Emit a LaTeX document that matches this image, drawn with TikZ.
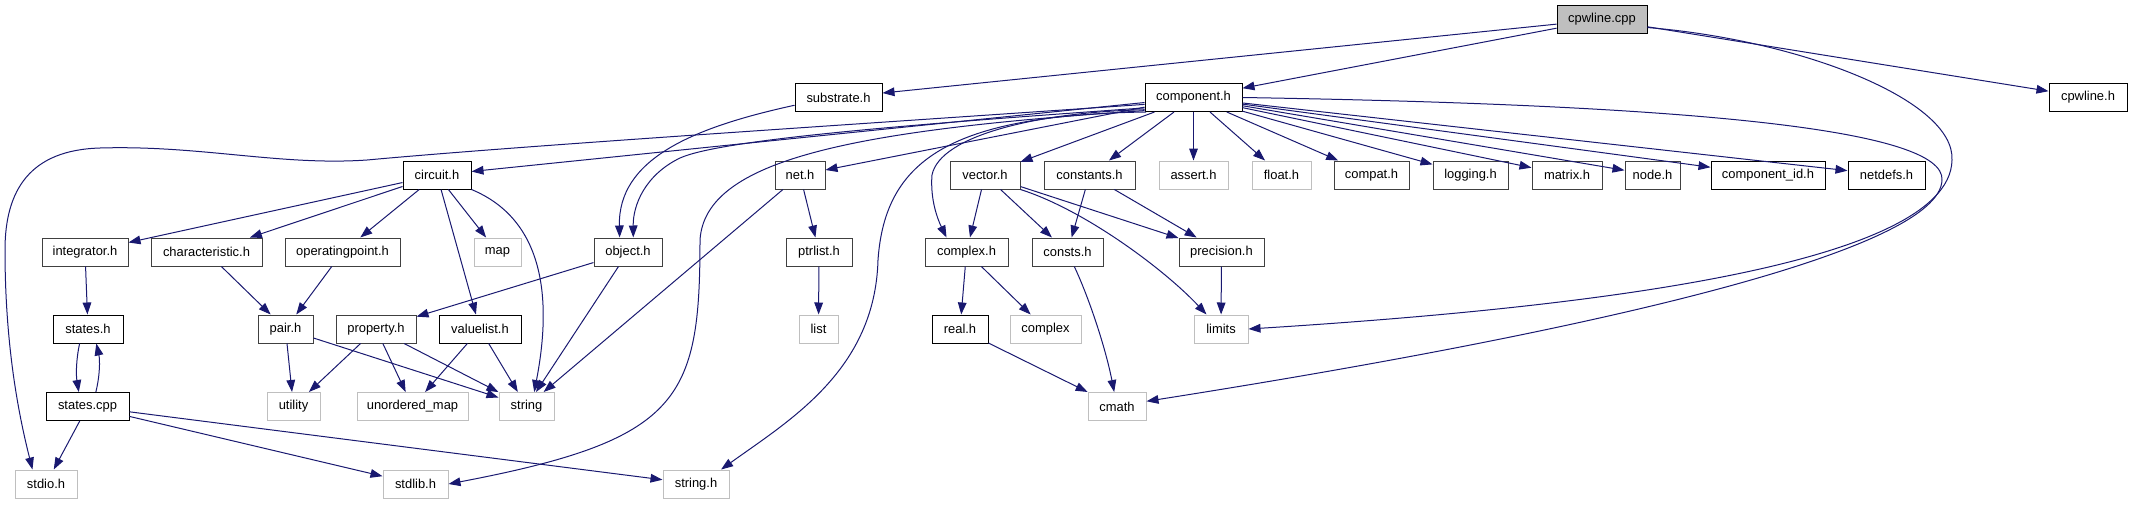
\documentclass[tikz,border=0pt]{standalone}
\usepackage{fontspec}
\setmainfont{Liberation Sans}
\usetikzlibrary{arrows.meta}

\definecolor{depblue}{HTML}{191970}
\definecolor{sysgrey}{HTML}{BFBFBF}
\definecolor{docgrey}{HTML}{404040}

\begin{document}
\begin{tikzpicture}[
    x=0.75pt, y=-0.75pt,
    hdr/.style={draw=black, line width=0.75pt, fill=white, inner sep=0pt,
                minimum height=21pt, font=\fontsize{9.7}{11}\selectfont},
    dochdr/.style={hdr, draw=docgrey},
    syshdr/.style={hdr, draw=sysgrey},
    srcfile/.style={hdr, fill=sysgrey},
    bw/.style={minimum width=#1*0.75pt},
    dep/.style={-{Triangle[length=9pt,width=6.5pt]}, draw=depblue, line width=0.75pt}
]
\useasboundingbox (0,0) rectangle (2132,504);

% rank 0 and 1
\node[srcfile, bw=90] (cpwcpp) at (1602,19.5) {cpwline.cpp};
\node[hdr, bw=87] (substrate) at (838.5,97.5) {substrate.h};
\node[hdr, bw=97] (component) at (1193.5,97.5) {component.h};
\node[hdr, bw=78] (cpwlineh) at (2088,97.5) {cpwline.h};

% rank 2
\node[hdr, bw=68] (circuit) at (437,175) {circuit.h};
\node[dochdr, bw=50] (net) at (800,175) {net.h};
\node[dochdr, bw=70] (vector) at (985,175) {vector.h};
\node[dochdr, bw=91] (constants) at (1089.5,175) {constants.h};
\node[syshdr, bw=69] (asserth) at (1193.5,175) {assert.h};
\node[syshdr, bw=59] (floath) at (1281.5,175) {float.h};
\node[dochdr, bw=75] (compat) at (1371.5,175) {compat.h};
\node[dochdr, bw=75] (logging) at (1470.5,175) {logging.h};
\node[dochdr, bw=70] (matrix) at (1567,175) {matrix.h};
\node[dochdr, bw=55] (nodeh) at (1652.5,175) {node.h};
\node[hdr, bw=114] (compid) at (1768,175) {component\_id.h};
\node[hdr, bw=77] (netdefs) at (1886.5,175) {netdefs.h};

% rank 3
\node[dochdr, bw=86] (integrator) at (85,252) {integrator.h};
\node[dochdr, bw=111] (characteristic) at (206.5,252) {characteristic.h};
\node[dochdr, bw=115] (operating) at (342.5,252) {operatingpoint.h};
\node[syshdr, bw=47] (map) at (497.5,252) {map};
\node[dochdr, bw=68] (object) at (628,252) {object.h};
\node[dochdr, bw=66] (ptrlist) at (819,252) {ptrlist.h};
\node[dochdr, bw=83] (complexh) at (966.5,252) {complex.h};
\node[dochdr, bw=71] (consts) at (1067.5,252) {consts.h};
\node[dochdr, bw=85] (precision) at (1221.5,252) {precision.h};

% rank 4
\node[hdr, bw=70] (states) at (88,329) {states.h};
\node[dochdr, bw=55] (pair) at (285.5,329) {pair.h};
\node[dochdr, bw=80] (property) at (376,329) {property.h};
\node[hdr, bw=82] (valuelist) at (480,329) {valuelist.h};
\node[syshdr, bw=39] (list) at (818.5,329) {list};
\node[hdr, bw=56] (real) at (960,329) {real.h};
\node[syshdr, bw=71] (complex) at (1045.5,329) {complex};
\node[syshdr, bw=54] (limits) at (1221,329) {limits};

% rank 5 and 6
\node[hdr, bw=83] (statescpp) at (87.5,406.5) {states.cpp};
\node[syshdr, bw=53] (utility) at (293.5,406.5) {utility};
\node[syshdr, bw=111] (umap) at (412.5,406.5) {unordered\_map};
\node[syshdr, bw=55] (string) at (526.5,406.5) {string};
\node[syshdr, bw=58] (cmath) at (1117,406.5) {cmath};
\node[syshdr, bw=62] (stdio) at (46,484) {stdio.h};
\node[syshdr, bw=65] (stdlib) at (415.5,484) {stdlib.h};
\node[syshdr, bw=66] (stringh) at (696,484) {string.h};

% cpwline.cpp
\draw[dep] (cpwcpp) -- (substrate);
\draw[dep] (cpwcpp) -- (component);
\draw[dep] (cpwcpp) -- (cpwlineh);
\draw[dep] (cpwcpp.-10) .. controls (1800,40) and (1955,100) .. (1952,160)
    .. controls (1950,270) and (1550,310) .. (limits.east);

% component.h
\draw[dep] (component.188) .. controls (800,128) and (520,146) .. (367,160)
    .. controls (280,166) and (200,145) .. (100,148)
    .. controls (30,150) and (5,190) .. (5,250)
    .. controls (5,350) and (20,420) .. (stdio.133);
\draw[dep] (component) -- (circuit);
\draw[dep] (component.192) .. controls (900,125) and (720,140) .. (680,158)
    .. controls (645,175) and (633,205) .. (object.70);
\draw[dep] (component) -- (net);
\draw[dep] (component.195) .. controls (850,130) and (705,160) .. (700,240)
    .. controls (700,400) and (680,440) .. (stdlib.east);
\draw[dep] (component.197) .. controls (950,115) and (885,160) .. (878,260)
    .. controls (875,370) and (790,420) .. (stringh.30);
\draw[dep] (component.194) .. controls (1040,112) and (940,135) .. (932,175)
    .. controls (930,200) and (938,220) .. (complexh.144);
\draw[dep] (component) -- (vector);
\draw[dep] (component) -- (constants);
\draw[dep] (component) -- (asserth);
\draw[dep] (component) -- (floath);
\draw[dep] (component) -- (compat);
\draw[dep] (component) -- (logging);
\draw[dep] (component) -- (matrix);
\draw[dep] (component) -- (nodeh);
\draw[dep] (component) -- (compid);
\draw[dep] (component) -- (netdefs);
\draw[dep] (component.east) .. controls (1700,105) and (1945,130) .. (1942,180)
    .. controls (1940,250) and (1600,330) .. (cmath.10);

% substrate.h
\draw[dep] (substrate.190) .. controls (690,128) and (618,160) .. (object.120);

% circuit.h
\draw[dep] (circuit) -- (integrator);
\draw[dep] (circuit) -- (characteristic);
\draw[dep] (circuit) -- (operating);
\draw[dep] (circuit) -- (map);
\draw[dep] (circuit) -- (valuelist);
\draw[dep] (circuit.south east) .. controls (545,220) and (552,300) .. (string.62);

% net.h, vector.h, constants.h
\draw[dep] (net) -- (ptrlist);
\draw[dep] (net) -- (string);
\draw[dep] (vector) -- (complexh);
\draw[dep] (vector) -- (consts);
\draw[dep] (vector) -- (precision);
\draw[dep] (vector.south east) .. controls (1085,210) and (1165,270) .. (limits.135);
\draw[dep] (constants) -- (consts);
\draw[dep] (constants) -- (precision);

% lower ranks
\draw[dep] (complexh) -- (real);
\draw[dep] (complexh) -- (complex);
\draw[dep] (consts) .. controls (1090,300) and (1106,350) .. (cmath);
\draw[dep] (precision) -- (limits);
\draw[dep] (real) -- (cmath);
\draw[dep] (ptrlist) -- (list);
\draw[dep] (integrator) -- (states);
\draw[dep] (states.-120) .. controls (76,360) and (76,375) .. (statescpp.121);
\draw[dep] (statescpp.60) .. controls (100,375) and (100,360) .. (states.-60);
\draw[dep] (statescpp) -- (stdio);
\draw[dep] (statescpp) -- (stdlib);
\draw[dep] (statescpp) -- (stringh);
\draw[dep] (characteristic) -- (pair);
\draw[dep] (operating) -- (pair);
\draw[dep] (object) -- (property);
\draw[dep] (object) -- (string);
\draw[dep] (pair) -- (utility);
\draw[dep] (pair) -- (string);
\draw[dep] (property) -- (utility);
\draw[dep] (property) -- (umap);
\draw[dep] (property) -- (string);
\draw[dep] (valuelist) -- (umap);
\draw[dep] (valuelist) -- (string);
\end{tikzpicture}
\end{document}
